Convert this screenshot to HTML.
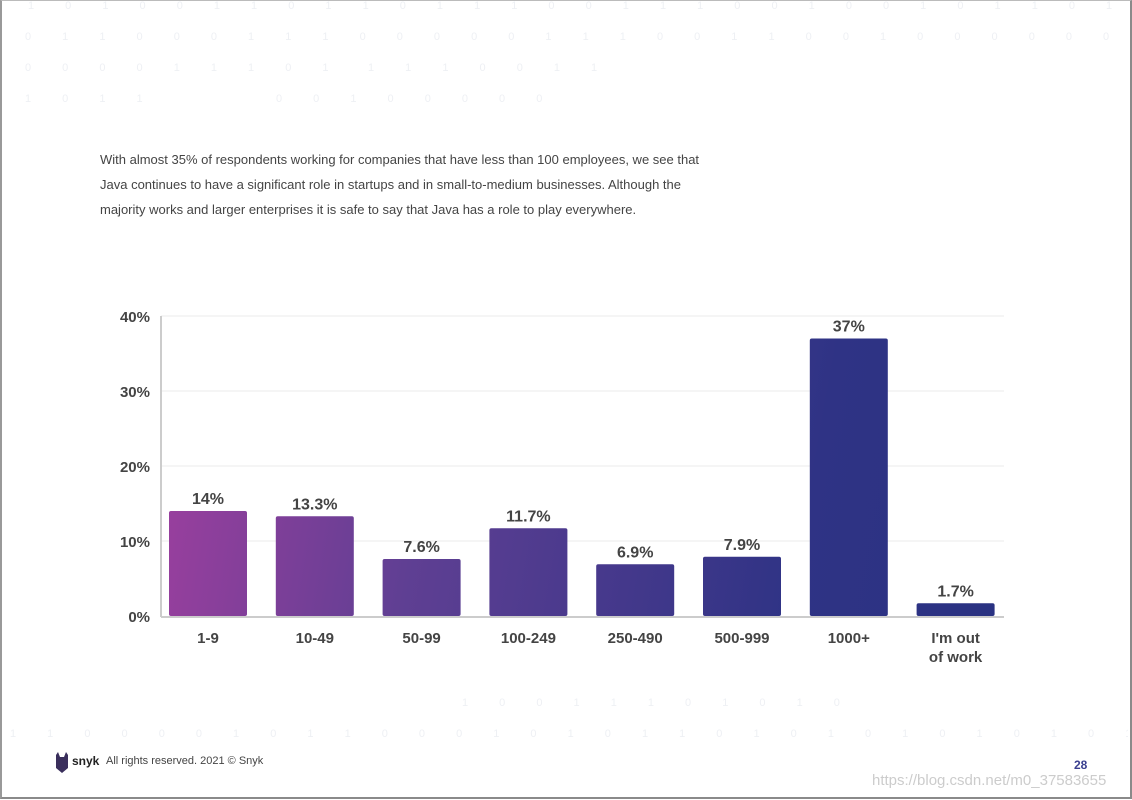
<!DOCTYPE html>
<html><head><meta charset="utf-8">
<style>
html,body{margin:0;padding:0;}
body{width:1132px;height:800px;position:relative;overflow:hidden;background:#fff;font-family:"Liberation Sans",sans-serif;}
.frame{position:absolute;left:0;top:0;width:1128px;height:796px;border:2px solid #8a8a8a;border-top:1px solid #bbb;border-left:2px solid #999;}
.binwrap{position:absolute;left:0;top:0;width:1128px;height:800px;overflow:hidden;}
.bin{position:absolute;color:#eef0f4;font-size:11px;letter-spacing:14px;white-space:nowrap;}
.para{position:absolute;left:100px;top:147px;width:622px;font-size:13px;line-height:25px;color:#444;}
.foot{position:absolute;top:755px;font-size:11px;color:#444;}
</style></head><body>
<div class="frame"></div>
<div class="binwrap">
<div class="bin" style="left:28px;top:0px">1 0 1 0 0 1 1 0 1 1 0 1 1 1 0 0 1 1 1 0 0 1 0 0 1 0 1 1 0 1 0 1 1 0 0 1 0 0 0 0</div>
<div class="bin" style="left:25px;top:31px">0 1 1 0 0 0 1 1 1 0 0 0 0 0 1 1 1 0 0 1 1 0 0 1 0 0 0 0 0 0 1 1 1 1 0 0 1 0 1 1</div>
<div class="bin" style="left:25px;top:62px">0 0 0 0 1 1 1 0 1</div>
<div class="bin" style="left:368px;top:62px">1 1 1 0 0 1 1</div>
<div class="bin" style="left:25px;top:93px">1 0 1 1</div>
<div class="bin" style="left:276px;top:93px">0 0 1 0 0 0 0 0</div>
<div class="bin" style="left:462px;top:697px">1 0 0 1 1 1 0 1 0 1 0</div>
<div class="bin" style="left:10px;top:728px">1 1 0 0 0 0 1 0 1 1 0 0 0 1 0 1 0 1 1 0 1 0 1 0 1 0 1 0 1 0 1 1 0 1 0 1 0 1 1 0 1</div>
</div>
<div class="para">With almost 35% of respondents working for companies that have less than 100 employees, we see that Java continues to have a significant role in startups and in small-to-medium businesses. Although the majority works and larger enterprises it is safe to say that Java has a role to play everywhere.</div>
<svg id="chart" width="1132" height="800" style="position:absolute;left:0;top:0">
<defs><linearGradient id="g" x1="160" y1="500" x2="1000" y2="650" gradientUnits="userSpaceOnUse">
<stop offset="0" stop-color="#9a3f9e"/><stop offset="0.3" stop-color="#5f3f93"/><stop offset="0.75" stop-color="#2f3385"/><stop offset="1" stop-color="#2a3282"/></linearGradient></defs>
</svg>
<svg style="position:absolute;left:54px;top:752px" width="16" height="22"><path d="M2 3 L4 0 L6 5 L10 5 L12 0 L14 3 L14 16 L8 21 L2 16Z" fill="#3a2f5c"/></svg>
<div class="foot" style="left:72px;font-weight:bold;color:#222;font-size:12px;top:754px">snyk</div>
<div class="foot" style="left:106px">All rights reserved. 2021 © Snyk</div>
<div class="foot" style="left:1074px;top:758px;font-weight:bold;color:#3a3f8f;font-size:12px">28</div>
<div style="position:absolute;left:872px;top:772px;font-size:15px;color:#ccc">https://blog.csdn.net/m0_37583655</div>
<script>
const categories=["1-9","10-49","50-99","100-249","250-490","500-999","1000+","I'm out|of work"];
const values=[14,13.3,7.6,11.7,6.9,7.9,37,1.7];
const labels=["14%","13.3%","7.6%","11.7%","6.9%","7.9%","37%","1.7%"];
const ticks=[0,10,20,30,40];
const svg=document.getElementById('chart');
const NS='http://www.w3.org/2000/svg';
const x0=161,x1=1004,y0=616,pxPer=7.5,step=106.8,bw=78;
const y=v=>y0-v*pxPer;
const cx=i=>208+i*step;
function mk(t,a,txt){const e=document.createElementNS(NS,t);for(const k in a)e.setAttribute(k,a[k]);if(txt!==undefined)e.textContent=txt;svg.appendChild(e);return e;}
ticks.forEach(t=>{
 if(t>0){const g=mk('line',{x1:x0,x2:x1,y1:y(t),y2:y(t),stroke:'#f5f5f5','stroke-width':2});
 
 }
 const l=mk('text',{x:150,y:y(t)+6,'text-anchor':'end','font-size':15,'font-weight':'bold',fill:'#444','font-family':'Liberation Sans'},t+'%');
 
 
});
values.forEach((v,i)=>{
 const r=mk('rect',{x:cx(i)-bw/2,y:y(v),width:bw,height:y0-y(v),fill:'url(#g)',rx:2});
 
 
 const t=mk('text',{x:cx(i),y:y(v)-7,'text-anchor':'middle','font-size':16,'font-weight':'bold',fill:'#444','font-family':'Liberation Sans'},labels[i]);
 
 
 categories[i].split('|').forEach((ln,j)=>{
  const c=mk('text',{x:cx(i),y:643+j*19,'text-anchor':'middle','font-size':15,'font-weight':'bold',fill:'#444','font-family':'Liberation Sans'},ln);
  
  
 });
});
const ax=mk('line',{x1:x0,x2:x0,y1:316,y2:y0+1,stroke:'#ccc','stroke-width':2});


const bx=mk('line',{x1:x0,x2:x1,y1:y0+1,y2:y0+1,stroke:'#ccc','stroke-width':2});


</script>
</body></html>
